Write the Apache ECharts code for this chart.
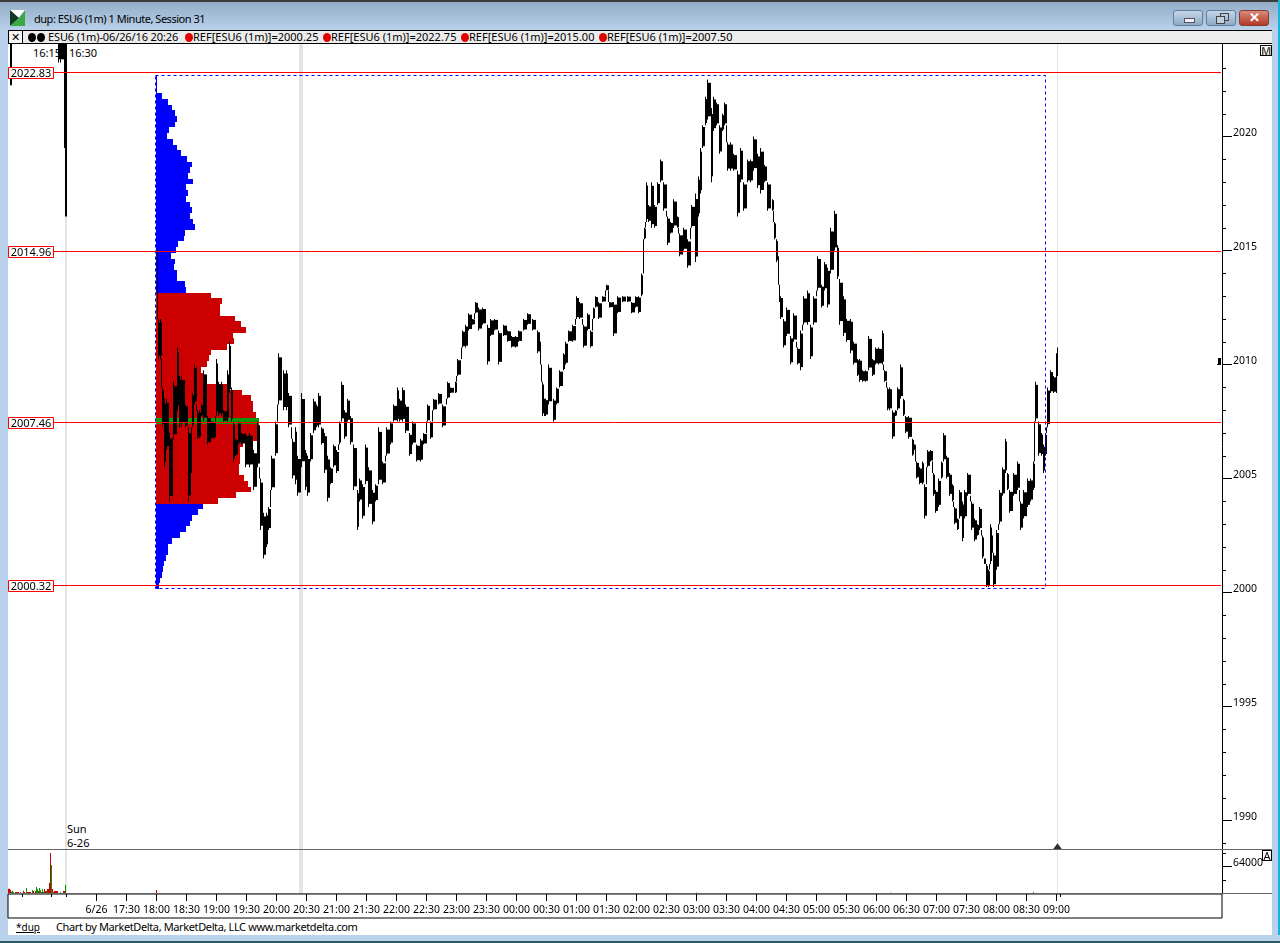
<!DOCTYPE html>
<html><head><meta charset="utf-8">
<style>
html,body{margin:0;padding:0;background:#b9d1ea;overflow:hidden}
#win{position:relative;width:1280px;height:943px;overflow:hidden;font-family:"Noto Sans",sans-serif;font-size:11px;color:#000}
.a{position:absolute;white-space:nowrap;line-height:14px}
#main{position:absolute;left:0;top:0;width:1280px;height:943px;z-index:2}
.top{z-index:3}
.btn{position:absolute;top:10px;width:30px;height:16px;border:1px solid #5f7f9e;border-radius:3px;box-sizing:border-box}
.dot{position:absolute;top:33px;width:8px;height:9px;border-radius:50%;background:#e00000}
</style></head><body>
<div id="win">
<div class="a" style="left:0;top:0;width:1280px;height:2px;background:#3d3d3d"></div>
<div class="a" style="left:0;top:2px;width:1280px;height:28px;background:linear-gradient(#93adc8,#b9d1ea)"></div>
<div class="a" style="left:0;top:30px;width:8px;height:905px;background:#b9d1ea"></div>
<div class="a" style="left:1272px;top:30px;width:6px;height:905px;background:#b9d1ea"></div>
<div class="a" style="left:1278px;top:0;width:2px;height:943px;background:#18b4e0"></div>
<div class="a" style="left:0;top:935px;width:1280px;height:6px;background:#b9d1ea"></div>
<div class="a" style="left:0;top:941px;width:1280px;height:2px;background:#2a5a66"></div>
<div class="a" style="left:8px;top:30px;width:1264px;height:905px;background:#fff"></div>
<svg class="a" style="left:10px;top:10px" width="16" height="17"><polygon points="0,0 15,0 15,1 8,8 0,0" fill="#fff"/><polygon points="0,0 9,8 0,16" fill="#123a22"/><polygon points="15,0 15,16 0,16 9,8" fill="#3aa845"/></svg>
<div class="a" style="left:34px;top:11px;font-size:11px;letter-spacing:-0.47px;line-height:16px">dup: ESU6 (1m) 1 Minute, Session 31</div>
<div class="btn" style="left:1173px;background:linear-gradient(#c5d6e8,#8fa9c4)"><div class="a" style="left:10px;top:7px;width:9px;height:3px;background:#eef;border:1px solid #555"></div></div>
<div class="btn" style="left:1206px;background:linear-gradient(#c5d6e8,#8fa9c4)"><div class="a" style="left:13px;top:2px;width:7px;height:6px;border:1px solid #444"></div><div class="a" style="left:9px;top:5px;width:7px;height:6px;border:1px solid #444;background:#c0d0e0"></div></div>
<div class="btn" style="left:1239px;background:linear-gradient(#d98a78,#b23a26);border-color:#8a3a30;color:#fff;font-weight:bold;font-size:13px;line-height:13px;text-align:center">&#10005;</div>
<div class="a" style="left:8px;top:30px;width:1264px;height:14px;box-sizing:border-box;border-top:1px solid #000;border-bottom:1px solid #000;background:#ececec"></div>
<div class="a" style="left:8px;top:30px;width:15px;height:14px;box-sizing:border-box;border:1px solid #000;background:#f6f6f6;text-align:center;line-height:12px">&#10005;</div>
<div class="dot" style="left:28px;background:#000"></div><div class="dot" style="left:37px;background:#000"></div>
<div class="a" style="left:48px;top:30px;letter-spacing:-0.12px">ESU6 (1m)-06/26/16 20:26</div>
<div class="dot" style="left:185px"></div><div class="a" style="left:193px;top:30px">REF[ESU6 (1m)]=2000.25</div>
<div class="dot" style="left:323px"></div><div class="a" style="left:331px;top:30px">REF[ESU6 (1m)]=2022.75</div>
<div class="dot" style="left:461px"></div><div class="a" style="left:469px;top:30px">REF[ESU6 (1m)]=2015.00</div>
<div class="dot" style="left:599px"></div><div class="a" style="left:607px;top:30px">REF[ESU6 (1m)]=2007.50</div>
<div class="a" style="left:33px;top:46px">16:15</div>
<div class="a" style="left:69px;top:46px">16:30</div>
<div class="a" style="left:67px;top:822px">Sun</div>
<div class="a" style="left:67px;top:836px">6-26</div>
<div class="a" style="left:16px;top:920px;font-size:10px;text-decoration:underline">*dup</div>
<div class="a" style="left:56px;top:920px;letter-spacing:-0.38px">Chart by MarketDelta, MarketDelta, LLC www.marketdelta.com</div>
<div id="main"></div>
<div class="a top" style="left:8px;top:849px;width:1264px;height:1px;background:#666"></div>
<div class="a top" style="left:8px;top:893px;width:1264px;height:1px;background:#666"></div>
<div class="a top" style="left:1260px;top:45px;width:12px;height:11px;box-sizing:border-box;border:1px solid #000;background:#fff;text-align:center;line-height:9px;font-weight:bold;color:#554">M</div>
<div class="a top" style="left:1262px;top:850px;width:10px;height:11px;box-sizing:border-box;border:1px solid #000;background:#fff;text-align:center;line-height:9px">A</div>
<div class="a top" style="left:1218px;top:358px;width:3px;height:6px;background:#000"></div>
<div class="a top" style="left:1217px;top:364px;width:4px;height:1px;background:#000"></div>
</div>
<script src="https://cdn.jsdelivr.net/npm/echarts@6/dist/echarts.min.js"></script>
<script>
// Minutes after 18:00 for each sampled one-minute bar column
const barMinutes=[-146,-98,-96,-92,-91,1,2,4,6,8,10,13,17,21,23,25,29,32,35,36,38,41,43,45,47,51,55,57,60,62,65,67,71,73,75,77,79,82,85,89,93,97,101,104,107,110,112,115,119,122,127,130,132,136,139,141,
145,149,151,154,157,160,162,165,168,171,174,177,180,183,185,188,191,194,197,201,203,206,209,212,216,219,222,226,230,234,237,241,243,246,249,253,256,260,264,267,271,274,277,282,286,291,294,299,301,306,309,312,316,319,322,326,331,334,338,342,347,351,355,359,362,367,371,376,381,384,
385,386,388,389,392,397,400,403,407,409,412,416,420,423,427,431,434,437,439,442,446,450,453,457,461,466,471,475,479,482,485,487,488,490,492,495,498,501,504,507,511,514,517,521,523,527,531,535,539,542,544,546,549,551,555,557,560,563,566,568,571,574,577,581,584,587,591,594,597,601,604,608,611,616,618,620,622,623,624,627,630,634,637,641,644,647,651,654,657,661,665,668,671,674,678,681,683,687,690,694,697,701,703,
706,709,712,716,719,722,726,728,731,733,736,739,741,744,747,749,752,756,758,760,763,766,768,771,774,777,779,782,785,787,790,793,796,798,801,803,806,808,811,815,818,821,823,826,828,830,832,834,836,837,840,843,846,849,851,853,857,861,864,867,871,874,877,879,882,885,887,889,891,894,897,900,901];
const barHighs=[2026,2025,2025,2025,2025,2015,2012,2012,2009,2008.5,2008.5,2007,2009.25,2010.75,2009.5,2009.5,2008.25,2007.25,2006.25,2008.75,2010,2008,2008,2008.25,2009.75,2007.75,2007.5,2007.5,2010.25,2009.25,2009.25,2008,2009.75,2011,2009,2007.5,2006.75,2007.5,2007,2007,2007,2006.25,2007.5,2005,2003.5,2003.5,2003.75,2006,2007.5,2010.5,2009.75,2009.75,2008.75,2006.75,2007.25,2006,
2008.75,2006.25,2006,2007,2008.5,2008.25,2008.75,2007.25,2007,2006,2005.5,2006.5,2006.25,2007.5,2009.25,2008,2008.5,2007.75,2006.5,2004.5,2005,2004.75,2006.5,2005.5,2004.5,2004.75,2007.25,2005.75,2007.25,2007.5,2008.25,2009,2008.5,2009,2008.25,2007,2007.5,2006.5,2006.75,2007,2008.25,2007.5,2008.5,2008.75,2008.25,2009.25,2009,2009.25,2010.25,2011.5,2011.75,2012.25,2012,2012.75,2012.5,2012.5,2011.75,2012,2012,2011.5,2011.75,2011.5,2011.25,2011.25,2011.5,2012,2012.25,2012,2011.5,2011,
2010,2009.25,2008.5,2008.5,2010,2008.5,2009,2009.75,2010.5,2011,2011.5,2011.75,2013,2012.75,2011.75,2012.25,2011.5,2012.5,2013,2012.75,2013,2013.5,2012.75,2012.75,2013,2013,2013,2012.75,2013,2013,2014,2015.5,2016,2018,2017,2018,2017,2018,2019,2018,2016.5,2016.25,2017.25,2016.5,2015.75,2016,2015.5,2017,2017.5,2018.25,2019.5,2020.5,2021.75,2022.5,2021.25,2021.75,2021.5,2020.5,2021,2021.5,2019.75,2019.75,2019.25,2018.5,2019.5,2018,2019,2019,2020,2019.25,2019.5,2018.75,2018,2017.25,2016.25,2015.5,2014.75,2013.5,2013,2012,2012.5,2011.25,2012.25,2010.75,2011.5,2013,2013.25,2011.75,2013,2014.75,2013.5,2014.5,2014.25,2016,2016.75,2015.25,2013.75,2013,2012,2012,2011,2010.25,2010.25,
2009.75,2009.75,2011.25,2010.25,2010.75,2010.75,2011.5,2009.75,2009,2009,2008,2008,2009,2010,2008.5,2007.75,2007.75,2006.75,2006.5,2005.75,2005.5,2005.75,2004.75,2006.25,2006.25,2005.25,2004.5,2005,2005.75,2007,2006,2005.25,2004.75,2003.75,2003.25,2004.5,2004,2004.5,2005.25,2004,2003.25,2003,2003.75,2002.5,2001.5,2001.25,2001,2003,2002.5,2001.75,2002.75,2004.5,2005.5,2006.75,2005.25,2004.5,2005.25,2005.75,2004,2004.5,2005,2005,2005.75,2009.25,2007.5,2007,2006.5,2007,2009,2009.75,2009.5,2010.5,2010.75];
const barLows=[2022.25,2023.25,2023.25,2019.5,2016.5,2012,2010.25,2010.25,2007.25,2005.5,2006.25,2004,2006.75,2008,2007.25,2007.25,2007.25,2004,2005.25,2007.25,2008.25,2006.75,2006.75,2007.75,2007.5,2006.5,2006.75,2006.75,2007.75,2007.75,2007.75,2007.5,2007.5,2008.75,2007.5,2005.75,2006,2006.5,2006.5,2005.5,2005.5,2004.5,2005.5,2002.75,2001.5,2002,2002.75,2004.5,2006,2008.25,2008,2008,2007.25,2005,2004.75,2004.25,
2005.5,2004.5,2004.25,2005.75,2007,2007.25,2007.25,2006.5,2005.25,2004,2004.75,2005.5,2005.25,2006.5,2007.5,2006.75,2007.5,2006.5,2004.5,2002.75,2004,2003.25,2004.75,2003.75,2003,2004,2004.75,2004.75,2006,2006.5,2007.5,2007.5,2007.5,2007.5,2007,2006,2006.5,2005.75,2005.75,2006.5,2007.5,2006.75,2008,2008.25,2007.25,2008.5,2008.75,2008.75,2009.5,2010.75,2010.75,2011.5,2011.75,2012.25,2011.5,2011.75,2010,2011.25,2011.5,2010,2011.25,2011,2010.75,2010.75,2011,2011.5,2011.75,2011.5,2010.5,2010.25,
2009.25,2007.75,2007.75,2007.75,2008.25,2007.5,2008.25,2009,2009.75,2010,2011,2011,2012,2012,2010.75,2011.5,2010.75,2012,2012.5,2012,2012.75,2013.25,2012.5,2011.25,2012.25,2012.75,2012.75,2012.25,2012.5,2012.25,2013,2014,2015.5,2016.25,2016.25,2016,2016,2017,2018,2016.75,2015.25,2015.75,2016,2016,2014.75,2015,2014.25,2016,2014.5,2016.5,2017.5,2019.5,2020.5,2020.75,2018,2020.25,2020.5,2019.25,2020.25,2020.5,2018.5,2018.5,2018.5,2016.5,2018,2016.75,2018,2018,2018.5,2017.75,2017.5,2018,2016.75,2016.75,2015.5,2014.5,2013.5,2012.75,2012,2010.75,2011.25,2010,2011,2010,2009.75,2011.75,2011.75,2010.25,2011.75,2013.25,2012.5,2013.25,2012.5,2014,2015,2013.75,2011.75,2011.25,2011,2010.5,2010,2009.5,2009.25,
2009.25,2009.25,2009.75,2009.5,2010,2010,2010,2009.25,2008,2008,2006.75,2007.75,2008,2008.5,2007.75,2007,2006.75,2006,2006.25,2005,2004.75,2004.75,2003.25,2005.5,2005.75,2004.25,2003.5,2003.75,2005,2005.75,2005,2004.25,2004,2003,2002.75,2003.25,2002.25,2003.25,2004.25,2002.75,2002.25,2002.5,2002.75,2001.5,2001.25,2000.25,2000.25,2001.25,2001.75,2000.25,2001,2003,2004.25,2005.25,2004.5,2003.5,2004.25,2004.5,2002.75,2003.25,2003.75,2004,2004.5,2007.5,2006,2006,2005.25,2006,2007.25,2008.75,2008.75,2008.75,2009.5];
// Volume profile, one row per quarter point from the top price down
const profileTop=2022.75, profileStep=0.25, valueAreaHigh=2013, valueAreaLow=2004, pocPrice=2007.5;
const profileCounts=[0,1,1,1,6,12,16,19,21,19,13,11,17,21,25,31,36,34,32,37,30,32,30,34,36,34,37,39,29,28,22,20,15,19,18,21,21,29,30,
55,66,64,64,79,85,90,77,78,71,55,53,51,45,47,48,71,86,95,97,97,100,103,103,101,102,87,84,84,84,83,83,88,92,95,80,62,
47,42,36,34,30,24,16,12,12,10,8,7,6,4,3];
// Reference levels
const levelPrices=[2022.83,2014.96,2007.46,2000.32];
const rangeMinutes=[0,889], rangePrices=[2022.68,2000.18];
// Session separators: minute, width
const sessionMinutes=[-91,144.5,901];
const sessionWidths=[2,4,1];
// Volume
const volMinutes=[-148,-147,-146,-145,-144,-143,-141,-140,-139,-138,-136,-133,-132,-130,-129,-128,-127,-126,-124,-123,-121,-120,-119,-118,-117,-116,-115,-114,-113,-112,-111,-110,-109,-108,-107,-106,-105,-104,-103,-102,-101,-100,-99,-96,-93,-92,-91,0,540,734,877];
const volValues=[10500,10500,8000,3000,5700,3000,2400,2400,2400,2400,2400,5700,2400,12000,2400,2400,2400,2400,7300,4900,4900,14600,9700,4900,12000,7300,2400,9700,2400,9700,4900,4900,9700,9700,24300,97300,68100,9700,2400,4900,4900,4900,4900,2400,4900,4900,19500,7300,1200,1200,2400];
const volUp=[0,0,0,1,1,1,0,0,0,0,1,0,0,1,0,0,0,0,1,0,0,1,1,0,1,1,0,1,1,0,0,1,0,0,0,0,1,0,1,0,0,0,0,1,0,0,1,0,1,1,1];
// Axes
const priceMajor=[1990,1995,2000,2005,2010,2015,2020];
const priceMinor=[1989,1991,1992,1993,1994,1996,1997,1998,1999,2001,2002,2003,2004,2006,2007,2008,2009,2011,2012,2013,2014,2016,2017,2018,2019,2021,2022,2023];
const timeTicks=[-60,-30,0,30,60,90,120,150,180,210,240,270,300,330,360,390,420,450,480,510,540,570,600,630,660,690,720,750,780,810,840,870,900];
const timeLabels=['6/26','17:30','18:00','18:30','19:00','19:30','20:00','20:30','21:00','21:30','22:00','22:30','23:00','23:30','00:00','00:30','01:00','01:30','02:00','02:30','03:00','03:30','04:00','04:30','05:00','05:30','06:00','06:30','07:00','07:30','08:00','08:30','09:00'];
const timeMinor=[-134,-105,-90,904];
const lastMarker=[901,1988.88];

const FONT='"Noto Sans",sans-serif';
const chart=echarts.init(document.getElementById('main'),null,{renderer:'canvas',width:1280,height:943});
const mMin=-148.5,mMax=1065.5,pMin=2010-(849-364.6)/22.8,pMax=2010+(364.6-44)/22.8,volMax=104640;
const hiddenX=i=>({gridIndex:i,type:'value',min:mMin,max:mMax,show:false});
const profileData=profileCounts.map((c,i)=>[c,profileTop-i*profileStep]);
const barData=barMinutes.map((m,i)=>{
  const g=i<barMinutes.length-1?barMinutes[i+1]-m:1, gap=g>6;
  const nh=(!gap&&i<barMinutes.length-1)?barHighs[i+1]:barHighs[i];
  const nl=(!gap&&i<barMinutes.length-1)?barLows[i+1]:barLows[i];
  return [m,barHighs[i],barLows[i],gap?2:Math.min(g,4),nh,nl,gap?0:g];
});
chart.setOption({
 animation:false,backgroundColor:'transparent',
 grid:[
  {left:8,top:44,width:1214,height:805},
  {left:8,top:850,width:1214,height:43},
  {left:8,top:894,width:1214,height:24,show:true,borderColor:'#000',borderWidth:1,backgroundColor:'transparent'}
 ],
 xAxis:[hiddenX(0),hiddenX(1),
  {gridIndex:2,type:'value',min:mMin,max:mMax,position:'top',splitLine:{show:false},axisLine:{show:false,onZero:false},
   axisTick:{show:true,inside:true,length:7,customValues:timeTicks,lineStyle:{color:'#000'}},
   axisLabel:{show:true,inside:true,margin:11,customValues:timeTicks,hideOverlap:false,color:'#000',fontFamily:FONT,fontSize:10.5,
     formatter:v=>timeLabels[timeTicks.indexOf(v)]}},
  {gridIndex:2,type:'value',min:mMin,max:mMax,position:'top',splitLine:{show:false},axisLine:{show:false,onZero:false},
   axisTick:{show:true,inside:true,length:3,customValues:timeMinor,lineStyle:{color:'#000'}},axisLabel:{show:false}}
 ],
 yAxis:[
  {gridIndex:0,type:'value',min:pMin,max:pMax,position:'right',splitLine:{show:false},
   axisLine:{show:true,onZero:false,lineStyle:{color:'#000'}},
   axisTick:{show:true,length:10,customValues:priceMajor,lineStyle:{color:'#000'}},
   axisLabel:{show:true,customValues:priceMajor,margin:11,verticalAlign:'bottom',lineHeight:8,color:'#000',fontFamily:FONT,fontSize:10.5,formatter:v=>String(v)}},
  {gridIndex:0,type:'value',min:pMin,max:pMax,position:'right',splitLine:{show:false},axisLine:{show:false,onZero:false},
   axisTick:{show:true,length:4,customValues:priceMinor,lineStyle:{color:'#000'}},axisLabel:{show:false}},
  {gridIndex:1,type:'value',min:0,max:volMax,position:'right',splitLine:{show:false},
   axisLine:{show:true,onZero:false,lineStyle:{color:'#000'}},
   axisTick:{show:true,length:10,customValues:[64000],lineStyle:{color:'#000'}},
   axisLabel:{show:true,customValues:[64000],margin:11,verticalAlign:'bottom',lineHeight:8,color:'#000',fontFamily:FONT,fontSize:10.5,formatter:v=>String(v)}},
  {gridIndex:1,type:'value',min:0,max:volMax,position:'right',splitLine:{show:false},axisLine:{show:false,onZero:false},
   axisTick:{show:true,length:4,customValues:[32000,96000],lineStyle:{color:'#000'}},axisLabel:{show:false}},
  {gridIndex:2,type:'value',min:0,max:1,show:false}
 ],
 series:[
  {type:'custom',xAxisIndex:0,yAxisIndex:0,z:1,silent:true,data:sessionMinutes.map((m,i)=>[m,sessionWidths[i]]),
   renderItem:(p,api)=>{const x=api.coord([api.value(0),pMin])[0],w=api.value(1);
     return {type:'rect',shape:{x:Math.round(x-w/2),y:44,width:w,height:849},style:{fill:'#e4e4e4'}};}},
  {type:'custom',xAxisIndex:0,yAxisIndex:0,z:2,silent:true,data:profileData,
   renderItem:(p,api)=>{const c=api.value(0),pr=api.value(1);
     const a=api.coord([0,pr+0.15]),b=api.coord([c,pr-0.10]);
     const fill=pr===pocPrice?'#0a990a':(pr<=valueAreaHigh&&pr>=valueAreaLow?'#cc0000':'#0000ff');
     const y1=Math.round(a[1]),y2=Math.round(b[1]);
     return {type:'rect',shape:{x:a[0]-0.5,y:y1,width:b[0]-a[0],height:y2-y1},style:{fill}};}},
  {type:'custom',xAxisIndex:0,yAxisIndex:0,z:3,silent:true,clip:true,data:barData,
   renderItem:(p,api)=>{const m=api.value(0),w=api.value(3),hi=api.value(1),lo=api.value(2),nh=api.value(4),nl=api.value(5),g=api.value(6);
     const a=api.coord([m,hi]),b=api.coord([m,lo]);
     const x=Math.round(a[0]-0.5),h=Math.max(1,b[1]-a[1]);
     const kids=[{type:'rect',shape:{x,y:a[1],width:g?1:w,height:h},style:{fill:'#000'}},
                 {type:'rect',shape:{x,y:a[1]+h*0.08,width:w,height:h*0.84},style:{fill:'#000'}}];
     if(g&&(nl>hi||nh<lo)){const y1=api.coord([m,nl>hi?nl:lo])[1],y2=api.coord([m,nl>hi?hi:nh])[1];
       kids.push({type:'rect',shape:{x:x+g-1,y:y1,width:1,height:y2-y1},style:{fill:'#000'}});}
     return {type:'group',children:kids};}},
  {type:'custom',xAxisIndex:0,yAxisIndex:0,z:4,silent:true,data:[[rangeMinutes[0],rangePrices[0],rangeMinutes[1],rangePrices[1]]],
   renderItem:(p,api)=>{const a=api.coord([api.value(0),api.value(1)]),b=api.coord([api.value(2),api.value(3)]);
     return {type:'rect',shape:{x:a[0]-1,y:Math.round(a[1])+0.5,width:b[0]-a[0]+1,height:Math.round(b[1]-a[1])},
       style:{fill:'none',stroke:'#0000ff',lineWidth:1,lineDash:[3,3]}};}},
  {type:'custom',xAxisIndex:0,yAxisIndex:0,z:5,silent:true,data:levelPrices.map(v=>[mMin,v]),
   renderItem:(p,api)=>{const v=api.value(1),y=Math.floor(api.coord([0,v])[1])+0.5;
     return {type:'group',children:[
       {type:'line',shape:{x1:8,y1:y,x2:1221,y2:y},style:{stroke:'#ff0000',lineWidth:1}},
       {type:'rect',shape:{x:8.5,y:y-5,width:45,height:11},style:{fill:'#fff',stroke:'#ff0000',lineWidth:1}},
       {type:'text',style:{x:31,y:y+1,text:v.toFixed(2),fill:'#000',font:'11px '+FONT,align:'center',verticalAlign:'middle'}}
     ]};}},
  {type:'scatter',xAxisIndex:0,yAxisIndex:0,z:6,silent:true,symbol:'triangle',symbolSize:[9,6],itemStyle:{color:'#000'},data:[lastMarker]},
  {type:'custom',xAxisIndex:1,yAxisIndex:2,z:2,silent:true,data:volMinutes.map((m,i)=>[m,volValues[i],volUp[i]]),
   renderItem:(p,api)=>{const a=api.coord([api.value(0),api.value(1)]),b=api.coord([api.value(0),0]);
     return {type:'rect',shape:{x:Math.round(a[0]-0.5),y:a[1],width:1,height:Math.max(1,b[1]-a[1])},style:{fill:api.value(2)?'#009900':'#cc0000'}};}},
  {type:'line',xAxisIndex:2,yAxisIndex:4,data:[],silent:true},
  {type:'line',xAxisIndex:3,yAxisIndex:4,data:[],silent:true},
  {type:'line',xAxisIndex:0,yAxisIndex:1,data:[],silent:true},
  {type:'line',xAxisIndex:1,yAxisIndex:3,data:[],silent:true}
 ]
});
</script>
</body></html>
